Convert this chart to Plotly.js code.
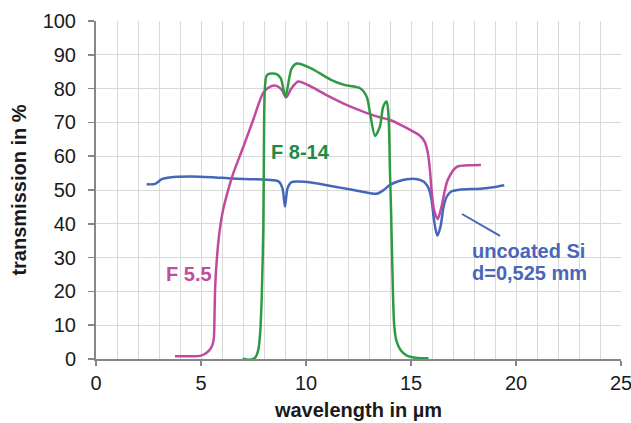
<!DOCTYPE html>
<html>
<head>
<meta charset="utf-8">
<script src="https://cdn.plot.ly/plotly-3.0.1.min.js"></script>
<style>html,body{margin:0;padding:0;background:#fff;}#chart{width:631px;height:423px;}</style>
</head>
<body>
<div id="chart"></div>
<script>
// Uncoated Si, d = 0.525 mm
const siX = [2.41, 2.81, 3.13, 3.5, 4.48, 5.5, 6.5, 7.5, 8.4, 8.7, 8.88, 9.0, 9.12, 9.3, 9.6, 10.24, 11.62, 12.5, 13.0, 13.37, 13.7, 14.0, 14.4, 14.8, 15.3, 15.59, 15.75, 15.87, 15.98, 16.1, 16.25, 16.4, 16.55, 16.7, 16.9, 17.3, 18.3, 19.0, 19.44];
const siY = [51.7, 51.8, 53.2, 53.7, 54.0, 53.8, 53.4, 53.2, 52.9, 52.5, 50.5, 45.1, 50.5, 52.3, 52.5, 52.2, 50.7, 49.7, 49.1, 48.9, 50.0, 51.5, 52.6, 53.2, 53.2, 52.5, 51.5, 50.0, 47.0, 41.0, 36.5, 39.0, 45.0, 48.0, 49.5, 50.1, 50.4, 50.9, 51.4];

// Filter F 5.5
const f55X = [3.76, 4.5, 5.0, 5.3, 5.5, 5.6, 5.65, 5.68, 5.76, 5.87, 6.03, 6.25, 6.54, 7.0, 7.5, 7.97, 8.3, 8.6, 8.85, 9.05, 9.3, 9.63, 10.24, 11.0, 11.82, 12.6, 13.41, 14.0, 14.6, 15.05, 15.4, 15.65, 15.8, 15.9, 15.98, 16.1, 16.27, 16.45, 16.75, 17.2, 17.7, 18.33];
const f55Y = [0.8, 0.8, 1.0, 2.0, 3.5, 5.5, 15.0, 22.0, 30.0, 37.0, 43.5, 49.0, 55.0, 62.5, 71.0, 78.8, 80.6, 80.8, 79.6, 77.4, 80.0, 82.1, 80.6, 78.0, 75.5, 73.5, 71.7, 70.7, 69.0, 67.5, 66.2, 64.3, 61.0, 56.0, 50.0, 44.0, 41.4, 45.0, 53.0, 56.9, 57.3, 57.4];

// Filter F 8-14
const f814X = [6.98, 7.3, 7.55, 7.72, 7.82, 7.9, 7.97, 8.0, 8.04, 8.12, 8.25, 8.6, 8.8, 9.02, 9.2, 9.32, 9.56, 10.24, 11.19, 11.82, 12.57, 12.89, 13.05, 13.29, 13.52, 13.68, 13.84, 13.93, 14.0, 14.05, 14.12, 14.2, 14.3, 14.52, 14.8, 15.2, 15.83];
const f814Y = [0.1, -0.2, 0.2, 2.5, 8.0, 20.0, 40.0, 65.0, 80.0, 83.8, 84.4, 84.3, 83.0, 77.6, 83.0, 86.0, 87.4, 86.0, 82.6, 81.1, 80.1, 77.6, 72.7, 66.0, 68.8, 74.7, 76.2, 72.0, 55.0, 44.0, 25.0, 10.0, 5.5, 2.5, 1.0, 0.4, 0.2];

// Leader line from the Si label to its curve
const leaderX = [17.43, 19.24];
const leaderY = [42.9, 36.4];

// Text labels
const labelText = ["F 8-14", "F 5.5", "uncoated Si", "d=0,525 mm"];
const labelX = [8.22, 3.25, 17.8, 17.8];
const labelY = [61.3, 25.1, 32.0, 25.4];
const labelColor = ["#1e8a45", "#c04d9e", "#4a66b8", "#4a66b8"];

const xTicks = [0, 5, 10, 15, 20, 25];
const yTicks = [0, 10, 20, 30, 40, 50, 60, 70, 80, 90, 100];

const lineBlue = "#4567b9";
const lineMagenta = "#c14aa0";
const lineGreen = "#2e9b43";

const traces = [
  {x: siX, y: siY, mode: "lines", line: {color: lineBlue, width: 2.5, shape: "spline", smoothing: 0.8}, hoverinfo: "skip"},
  {x: f55X, y: f55Y, mode: "lines", line: {color: lineMagenta, width: 2.5, shape: "spline", smoothing: 0.8}, hoverinfo: "skip"},
  {x: f814X, y: f814Y, mode: "lines", line: {color: lineGreen, width: 2.5, shape: "spline", smoothing: 0.8}, hoverinfo: "skip"}
];

const annotations = labelText.map((t, i) => ({
  x: labelX[i], y: labelY[i], xref: "x", yref: "y", text: t, showarrow: false,
  xanchor: "left", yanchor: "middle",
  font: {family: "Liberation Sans, Arial, sans-serif", size: 20, color: labelColor[i], weight: "bold"}
}));

const layout = {
  width: 631, height: 423,
  margin: {l: 96, r: 10, t: 21, b: 64, pad: 0},
  paper_bgcolor: "#ffffff", plot_bgcolor: "#ffffff",
  showlegend: false,
  font: {family: "Liberation Sans, Arial, sans-serif", size: 20, color: "#1a1a1a"},
  xaxis: {
    range: [0, 25], tickvals: xTicks, ticktext: xTicks.map(String),
    showgrid: true, gridcolor: "#d9d9d9", gridwidth: 1,
    minor: {dtick: 1, tick0: 0, showgrid: true, gridcolor: "#d9d9d9", gridwidth: 1, ticklen: 0},
    showline: true, linecolor: "#878787", linewidth: 2,
    ticks: "outside", ticklen: 5, tickcolor: "#878787", tickwidth: 1.5,
    ticklabeloverflow: "allow",
    zeroline: false, fixedrange: true,
    tickfont: {size: 20, color: "#1a1a1a"},
    title: {text: "wavelength in µm", standoff: 10, font: {size: 20, weight: "bold", color: "#1a1a1a"}}
  },
  yaxis: {
    range: [0, 100], tickvals: yTicks, ticktext: yTicks.map(String),
    showgrid: true, gridcolor: "#d9d9d9", gridwidth: 1,
    showline: true, linecolor: "#878787", linewidth: 2,
    ticks: "outside", ticklen: 6, tickcolor: "#878787", tickwidth: 1.5,
    ticklabelstandoff: 8,
    zeroline: false, fixedrange: true,
    tickfont: {size: 20, color: "#1a1a1a"},
    title: {text: "transmission in %", standoff: 11, font: {size: 20, weight: "bold", color: "#1a1a1a"}}
  },
  shapes: [{type: "line", xref: "x", yref: "y", x0: leaderX[0], y0: leaderY[0], x1: leaderX[1], y1: leaderY[1], line: {color: lineBlue, width: 2}}],
  annotations: annotations
};

Plotly.newPlot("chart", traces, layout, {displayModeBar: false, staticPlot: true});
</script>
</body>
</html>
